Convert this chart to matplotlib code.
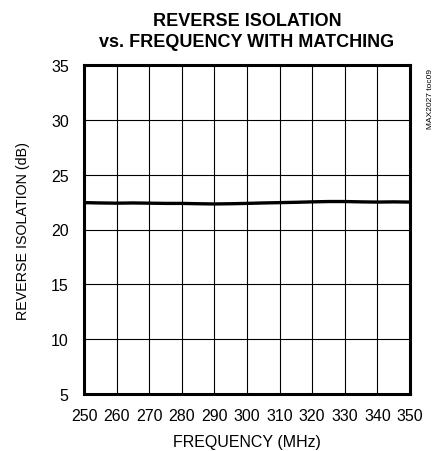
import matplotlib
matplotlib.use("Agg")
import matplotlib.pyplot as plt

plt.rcParams["font.family"] = ["Liberation Sans", "DejaVu Sans"]

# data
freq = [250, 255, 260, 265, 270, 275, 280, 285, 290, 295, 300,
        305, 310, 315, 320, 325, 330, 335, 340, 345, 350]
isolation = [22.45, 22.42, 22.40, 22.42, 22.40, 22.38, 22.38, 22.35, 22.33, 22.35, 22.38,
             22.42, 22.45, 22.48, 22.52, 22.55, 22.55, 22.52, 22.50, 22.52, 22.50]
x_ticks = list(range(250, 351, 10))
y_ticks = list(range(5, 36, 5))

fig = plt.figure(figsize=(4.36, 4.52), dpi=100)
ax = fig.add_axes([84 / 436, 1 - 395 / 452, 326 / 436, 329 / 452])

ax.plot(freq, isolation, color="black", linewidth=2.4)

ax.set_xlim(250, 350)
ax.set_ylim(5, 35)
ax.set_xticks(x_ticks)
ax.set_yticks(y_ticks)
ax.grid(True, color="black", linewidth=0.8)
ax.tick_params(length=0, labelsize=11.5)
ax.tick_params(axis="x", pad=10)
ax.tick_params(axis="y", pad=11)
for s in ax.spines.values():
    s.set_linewidth(2.2)

ax.set_xlabel("FREQUENCY (MHz)", fontsize=11.5, labelpad=8)
ax.set_ylabel("REVERSE ISOLATION (dB)", fontsize=10.3, labelpad=15)
ax.set_title("REVERSE ISOLATION\nvs. FREQUENCY WITH MATCHING",
             fontsize=13, fontweight="bold", linespacing=1.25, pad=14)

fig.text(430 / 436, 1 - 69 / 452, "MAX2027 toc09", rotation=90,
         fontsize=6, ha="center", va="top")

fig.savefig("out.png", dpi=100)
